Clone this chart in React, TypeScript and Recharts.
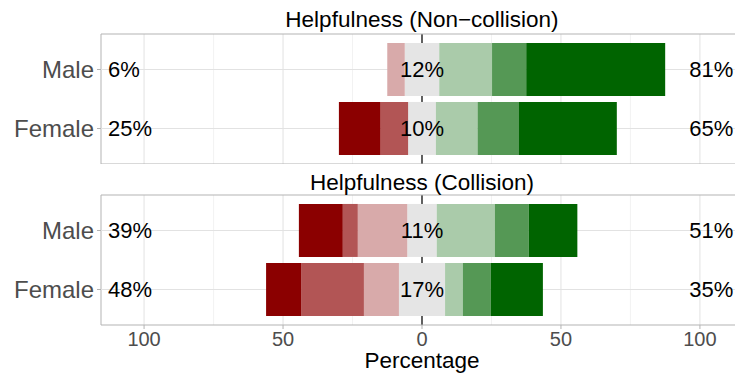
import React from "react";
import {
  BarChart,
  Bar,
  XAxis,
  YAxis,
  CartesianGrid,
  ReferenceLine,
  ReferenceDot,
  Label,
} from "recharts";

const GROUPS = ["Male", "Female"];

// shares per answer level, strongly negative -> neutral -> strongly positive
const NON_COLLISION_MALE = [0, 0, 6.3, 12.4, 19.0, 12.3, 50.0];
const NON_COLLISION_FEMALE = [15.0, 9.9, 0, 10.0, 15.0, 14.9, 35.2];
const COLLISION_MALE = [15.8, 5.4, 17.8, 10.6, 20.9, 12.2, 17.5];
const COLLISION_FEMALE = [12.6, 22.6, 12.6, 16.6, 6.4, 10.0, 18.8];

const MAJOR_TICKS = [-100, -50, 0, 50, 100];
const MINOR_TICKS = [-75, -25, 25, 75];

const COLORS = ["#8B0000", "#B25555", "#D8AAAA", "#E5E5E5", "#AACBAA", "#559855", "#006400"];
const DOMAIN: [number, number] = [-115.5, 115.5];

type Row = {
  group: string;
  nNeg: number;
  r3: number;
  r2: number;
  r1: number;
  nPos: number;
  g1: number;
  g2: number;
  g3: number;
  left: number;
  mid: number;
  right: number;
};

function buildRows(values: number[][]): Row[] {
  return values.map((v, i) => ({
    group: GROUPS[i],
    nNeg: -v[3] / 2,
    r3: -v[2],
    r2: -v[1],
    r1: -v[0],
    nPos: v[3] / 2,
    g1: v[4],
    g2: v[5],
    g3: v[6],
    left: Math.round(v[0] + v[1] + v[2]),
    mid: Math.round(v[3]),
    right: Math.round(v[4] + v[5] + v[6]),
  }));
}

const SERIES = [
  { key: "nNeg", color: COLORS[3] },
  { key: "r3", color: COLORS[2] },
  { key: "r2", color: COLORS[1] },
  { key: "r1", color: COLORS[0] },
  { key: "nPos", color: COLORS[3] },
  { key: "g1", color: COLORS[4] },
  { key: "g2", color: COLORS[5] },
  { key: "g3", color: COLORS[6] },
];

type FacetProps = {
  title: string;
  rows: Row[];
  showAxis: boolean;
  height: number;
  titleHeight: number;
  titleOffset: number;
};

function Facet({ title, rows, showAxis, height, titleHeight, titleOffset }: FacetProps) {
  return (
    <BarChart
      width={750}
      height={height}
      data={rows}
      layout="vertical"
      stackOffset="sign"
      barCategoryGap="5%"
      margin={{ top: 0, right: 7, bottom: 0, left: 0 }}
    >
      <XAxis
        xAxisId="title"
        orientation="top"
        type="number"
        domain={DOMAIN}
        height={titleHeight}
        tick={false}
        tickLine={false}
        axisLine={false}
      >
        <Label value={title} position="insideBottom" offset={titleOffset} fontSize={22.5} fill="#000" />
      </XAxis>
      <XAxis
        type="number"
        domain={DOMAIN}
        allowDataOverflow
        ticks={MAJOR_TICKS}
        hide={!showAxis}
        height={50}
        tickFormatter={(v) => String(Math.abs(v))}
        tick={{ fontSize: 20, fill: "#4D4D4D" }}
        tickLine={{ stroke: "#B3B3B3" }}
        tickSize={4}
        tickMargin={3}
        axisLine={false}
      >
        {showAxis && <Label value="Percentage" position="insideBottom" offset={7} fontSize={22.5} fill="#000" />}
      </XAxis>
      <YAxis
        type="category"
        dataKey="group"
        width={101}
        padding={{ top: 6, bottom: 6 }}
        tick={{ fontSize: 24, fill: "#4D4D4D" }}
        tickLine={{ stroke: "#B3B3B3" }}
        tickSize={4}
        tickMargin={3}
        axisLine={false}
      />
      <CartesianGrid horizontal={false} verticalValues={MINOR_TICKS} stroke="#EDEDED" strokeWidth={0.7} />
      <CartesianGrid horizontal={false} verticalValues={MAJOR_TICKS} stroke="#E2E2E2" />
      {GROUPS.map((g) => (
        <ReferenceLine key={g} y={g} stroke="#E2E2E2" zIndex={-50} />
      ))}
      <CartesianGrid horizontal={false} verticalValues={[0]} stroke="#000" strokeWidth={1.2} />
      <CartesianGrid
        stroke="#B3B3B3"
        horizontalCoordinatesGenerator={({ offset }: any) => [offset.top, offset.top + offset.height]}
        verticalCoordinatesGenerator={({ offset }: any) => [offset.left, offset.left + offset.width]}
      />
      {SERIES.map((s) => (
        <Bar key={s.key} dataKey={s.key} stackId="a" fill={s.color} isAnimationActive={false} />
      ))}
      {rows.map((r) => (
        <ReferenceDot
          key={"l" + r.group}
          x={-113}
          y={r.group}
          r={0}
          fill="none"
          stroke="none"
          label={{ value: `${r.left}%`, position: "right", offset: 0, fontSize: 22, fill: "#000" }}
        />
      ))}
      {rows.map((r) => (
        <ReferenceDot
          key={"m" + r.group}
          x={0}
          y={r.group}
          r={0}
          fill="none"
          stroke="none"
          label={{ value: `${r.mid}%`, position: "center", offset: 0, fontSize: 22, fill: "#000" }}
        />
      ))}
      {rows.map((r) => (
        <ReferenceDot
          key={"r" + r.group}
          x={112}
          y={r.group}
          r={0}
          fill="none"
          stroke="none"
          label={{ value: `${r.right}%`, position: "left", offset: 0, fontSize: 22, fill: "#000" }}
        />
      ))}
    </BarChart>
  );
}

export default function App() {
  return (
    <div
      style={{
        position: "absolute",
        left: 0,
        top: 0,
        width: 735,
        height: 375,
        overflow: "hidden",
        background: "#fff",
        fontFamily: '"Liberation Sans", Arial, sans-serif',
      }}
    >
      <div style={{ position: "absolute", left: 0, top: 0 }}>
        <Facet
          title="Helpfulness (Non−collision)"
          rows={buildRows([NON_COLLISION_MALE, NON_COLLISION_FEMALE])}
          showAxis={false}
          height={164}
          titleHeight={34}
          titleOffset={7}
        />
      </div>
      <div style={{ position: "absolute", left: 0, top: 164 }}>
        <Facet
          title="Helpfulness (Collision)"
          rows={buildRows([COLLISION_MALE, COLLISION_FEMALE])}
          showAxis={true}
          height={211}
          titleHeight={31}
          titleOffset={5}
        />
      </div>
    </div>
  );
}
